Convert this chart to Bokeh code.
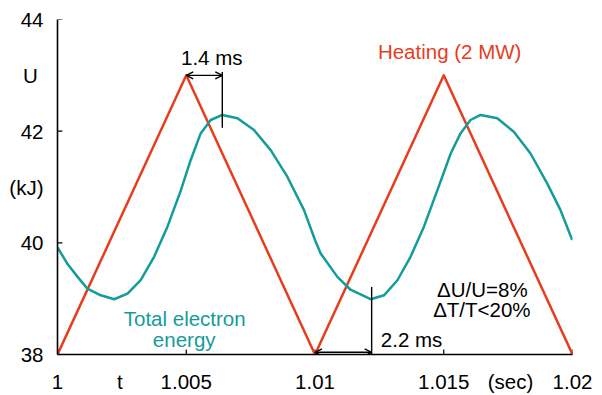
from bokeh.plotting import figure
from bokeh.models import FixedTicker, Label, Arrow, OpenHead
from bokeh.embed import file_html
from bokeh.resources import INLINE

# Heating power waveform (triangle), shown on the energy scale
heat_t = [1.0, 1.005, 1.01, 1.015, 1.02]
heat_u = [38.0, 43.0, 38.0, 43.0, 38.0]

# Total electron energy (kJ)
energy_t = [1.0000, 1.00039, 1.00078, 1.00116, 1.00168, 1.00220, 1.00272, 1.00323,
            1.00375, 1.00427, 1.00479, 1.00517, 1.00556, 1.00595, 1.00640, 1.00699,
            1.00763, 1.00828, 1.00893, 1.00957, 1.01000, 1.01022, 1.01087, 1.01138,
            1.01216, 1.01268, 1.01320, 1.01371, 1.01423, 1.01475, 1.01527, 1.01565,
            1.01604, 1.01643, 1.01708, 1.01772, 1.01837, 1.01902, 1.01953, 1.01999]
energy_u = [39.92, 39.62, 39.39, 39.18, 39.06, 38.99, 39.09, 39.33,
            39.75, 40.29, 40.94, 41.48, 41.96, 42.20, 42.29, 42.23,
            42.02, 41.66, 41.18, 40.59, 40.05, 39.81, 39.39, 39.16,
            38.99, 39.06, 39.33, 39.75, 40.29, 40.94, 41.60, 41.96,
            42.20, 42.29, 42.23, 41.99, 41.60, 41.06, 40.59, 40.05]

x_ticks = [1.0, 1.005, 1.01, 1.015, 1.02]
x_tick_labels = ["1", "1.005", "1.01", "1.015", "1.02"]
x_name_pos = [1.00242, 1.01759]
x_name_labels = ["t", "(sec)"]
y_ticks = [38, 40, 42, 44]
y_name_pos = [41, 43]
y_name_labels = ["(kJ)", "U\u00a0"]

heat_peak = 1.005
heat_min = 1.01
lag_peak = 0.0014
lag_min = 0.0022

RED = "#e73d1e"
TEAL = "#149b9b"
FONT = "Liberation Sans"
FS = "20.5px"
TICK = 0.00019  # inward tick length in time units (~5 px)
TICKY = 0.09    # inward tick length in kJ (~5 px)

p = figure(width=602, height=395, x_range=(1.0, 1.02), y_range=(38, 44),
           output_backend="svg", toolbar_location=None,
           min_border_left=57, min_border_right=30, min_border_top=19, min_border_bottom=41)
p.outline_line_color = None
p.xgrid.visible = False
p.ygrid.visible = False
p.background_fill_color = "white"

for ax in (p.xaxis[0], p.yaxis[0]):
    ax.axis_line_width = 1.6
    ax.axis_line_color = "black"
    ax.major_tick_in = 0
    ax.major_tick_out = 0
    ax.minor_tick_line_color = None
    ax.major_label_text_font = FONT
    ax.major_label_text_font_size = FS
    ax.major_label_text_color = "black"

p.xaxis.ticker = FixedTicker(ticks=x_ticks + x_name_pos)
ov = {t: l for t, l in zip(x_ticks, x_tick_labels)}
ov.update({t: l for t, l in zip(x_name_pos, x_name_labels)})
p.xaxis.major_label_overrides = ov
p.xaxis.major_label_standoff = 15

p.yaxis.ticker = FixedTicker(ticks=y_ticks + y_name_pos)
ovy = {t: str(t) for t in y_ticks}
ovy.update({t: l for t, l in zip(y_name_pos, y_name_labels)})
p.yaxis.major_label_overrides = ovy
p.yaxis.major_label_standoff = 14

# inward tick marks at the numeric ticks only
p.segment(x0=x_ticks, y0=[38] * len(x_ticks), x1=x_ticks, y1=[38 + TICKY] * len(x_ticks),
          line_color="black", line_width=1.2)
p.segment(x0=[1.0] * len(y_ticks), y0=y_ticks, x1=[1.0 + TICK] * len(y_ticks), y1=y_ticks,
          line_color="black", line_width=1.2)

p.line(heat_t, heat_u, line_color=RED, line_width=2.5, line_join="round")
p.line(energy_t, energy_u, line_color=TEAL, line_width=2.5, line_join="round")

# lag annotations
p.add_layout(Arrow(start=OpenHead(size=7, line_width=1.4), end=OpenHead(size=7, line_width=1.4),
                   x_start=heat_peak, y_start=43.0, x_end=heat_peak + lag_peak, y_end=43.0,
                   line_width=1.4))
p.segment(x0=[heat_peak + lag_peak], y0=[43.06], x1=[heat_peak + lag_peak], y1=[42.06],
          line_color="black", line_width=1.4)
p.add_layout(Arrow(start=OpenHead(size=7, line_width=1.4), end=OpenHead(size=7, line_width=1.4),
                   x_start=heat_min, y_start=38.04, x_end=heat_min + lag_min, y_end=38.04,
                   line_width=1.4))
p.segment(x0=[heat_min + lag_min], y0=[39.21], x1=[heat_min + lag_min], y1=[38.0],
          line_color="black", line_width=1.4)

def txt(x, y, s, color="black", align="center"):
    p.add_layout(Label(x=x, y=y, text=s, text_font=FONT, text_font_size=FS,
                       text_color=color, text_align=align, text_baseline="middle"))

txt(1.00599, 43.32, "1.4 ms")
txt(1.01375, 38.26, "2.2 ms")
txt(1.01523, 43.43, "Heating (2 MW)", RED)
txt(1.00494, 38.65, "Total electron", TEAL)
txt(1.00492, 38.27, "energy", TEAL)
txt(1.01650, 39.16, "\u0394U/U=8%")
txt(1.01648, 38.80, "\u0394T/T<20%")

open("out.html", "w").write(file_html(p, INLINE))
